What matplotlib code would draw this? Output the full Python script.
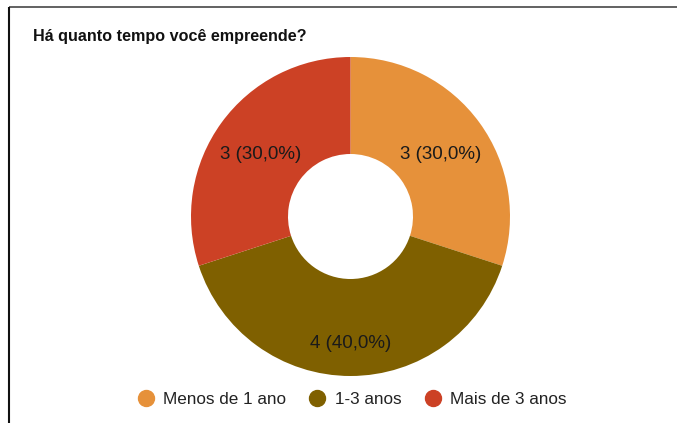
import matplotlib
matplotlib.use("Agg")
import matplotlib.pyplot as plt
from matplotlib.lines import Line2D
import numpy as np

plt.rcParams['font.family'] = ['Liberation Sans', 'DejaVu Sans']

title = "Há quanto tempo você empreende?"
categories = ["Menos de 1 ano", "1-3 anos", "Mais de 3 anos"]
counts = [3, 4, 3]
colors = ["#E6913A", "#7F6000", "#CC4125"]

W, H = 677, 423
fig = plt.figure(figsize=(W / 100, H / 100), dpi=100)
ax = fig.add_axes([0, 0, 1, 1])

cx, cy, R = 350.5, H - 216.5, 159.5
r_in = 62.5
wedges, _ = ax.pie(counts, colors=colors, startangle=90, counterclock=False,
                   radius=R, center=(cx, cy), frame=True,
                   wedgeprops=dict(width=R - r_in, linewidth=0))
ax.set_xlim(0, W)
ax.set_ylim(0, H)
ax.set_aspect('auto')
ax.axis('off')

total = sum(counts)
label_r = [111, 124, 111]
for w, c, lr in zip(wedges, counts, label_r):
    ang = np.deg2rad((w.theta1 + w.theta2) / 2)
    x = cx + lr * np.cos(ang)
    y = cy + lr * np.sin(ang) - 3
    txt = f"{c} ({c / total * 100:.1f}%)".replace('.', ',')
    ax.text(x, y, txt, ha='center', va='center', fontsize=13.5, color='#1a1a1a')

ax.text(33, H - 36.5, title, fontsize=11.6, fontweight='bold', color='#111111',
        ha='left', va='center')

handles = [Line2D([0], [0], marker='o', linestyle='none', markersize=11.5,
                  markerfacecolor=c, markeredgecolor=c) for c in colors]
ax.legend(handles, categories, loc='center', bbox_to_anchor=(352 / W, (H - 399) / H),
          ncol=3, frameon=False, fontsize=12.3, handletextpad=0.55,
          columnspacing=1.3, labelcolor='#222222', handlelength=1.0)

# border lines (top and left)
ax.plot([9, W], [H - 7, H - 7], color='#555555', linewidth=1.3, solid_capstyle='butt')
ax.plot([9, 9], [0, H - 7], color='#111111', linewidth=1.5, solid_capstyle='butt')

fig.savefig("out.png", dpi=100)
